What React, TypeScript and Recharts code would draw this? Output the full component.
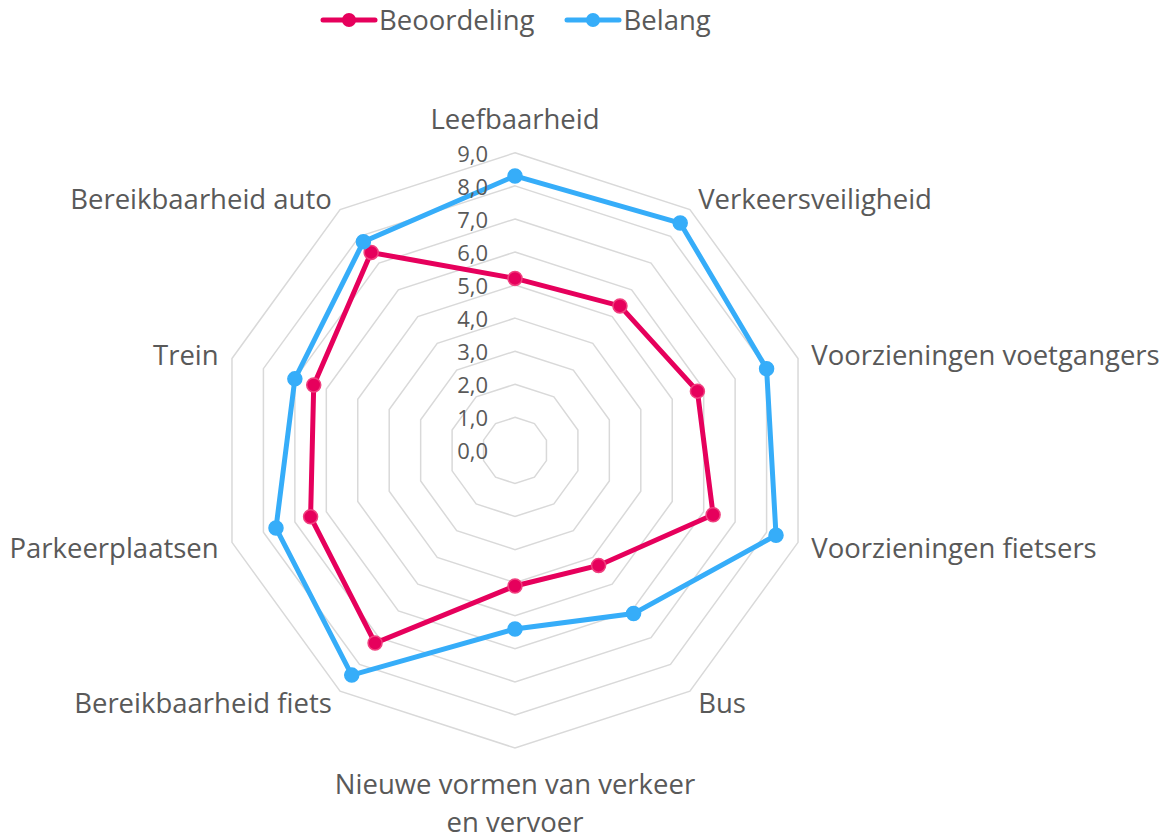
import { RadarChart, Radar, PolarGrid, PolarAngleAxis, PolarRadiusAxis } from 'recharts';

const categories = [
  'Leefbaarheid',
  'Verkeersveiligheid',
  'Voorzieningen voetgangers',
  'Voorzieningen fietsers',
  'Bus',
  'Nieuwe vormen van verkeer\nen vervoer',
  'Bereikbaarheid fiets',
  'Parkeerplaatsen',
  'Trein',
  'Bereikbaarheid auto',
];
const beoordeling = [5.2, 5.4, 5.8, 6.3, 4.3, 4.1, 7.2, 6.5, 6.4, 7.4];
const belang = [8.3, 8.5, 8.0, 8.3, 6.1, 5.4, 8.4, 7.6, 7.0, 7.8];
const radiusTicks = [0, 1, 2, 3, 4, 5, 6, 7, 8, 9];

const PINK = '#E6005C';
const BLUE = '#36ADF9';
const TEXT = '#595959';
const FONT = '"Open Sans", sans-serif';

const CX = 515;
const CY = 450.4;
const OUTER = 297.6;

const data = categories.map((name, i) => ({
  name,
  beoordeling: beoordeling[i],
  belang: belang[i],
}));

function AngleTick(props: any) {
  const { x, y, payload } = props;
  const dx = x - CX;
  const dy = y - CY;
  const len = Math.sqrt(dx * dx + dy * dy) || 1;
  const ux = dx / len;
  const uy = dy / len;
  const lines = String(payload.value).split('\n');
  let px = CX + ux * (OUTER + 14);
  let py = CY + uy * (OUTER + 14);
  let anchor: 'start' | 'end' | 'middle' = 'middle';
  if (ux > 0.1) anchor = 'start';
  else if (ux < -0.1) anchor = 'end';
  else {
    px = CX;
    py = CY + uy * (OUTER + 35);
  }
  return (
    <text
      x={px}
      y={py}
      textAnchor={anchor}
      dominantBaseline="central"
      fill={TEXT}
      fontSize={27.5}
      fontFamily={FONT}
    >
      {lines.map((l, i) => (
        <tspan key={i} x={px} dy={i === 0 ? 0 : 38}>
          {l}
        </tspan>
      ))}
    </text>
  );
}

function RadiusTick(props: any) {
  const { x, y, payload } = props;
  return (
    <text
      x={x - 27}
      y={y}
      textAnchor="end"
      dominantBaseline="central"
      fill={TEXT}
      fontSize={22}
      fontFamily={FONT}
    >
      {Number(payload.value).toFixed(1).replace('.', ',')}
    </text>
  );
}

function LegendItem({ color, label }: { color: string; label: string }) {
  return (
    <div style={{ display: 'flex', alignItems: 'center', marginRight: 30 }}>
      <svg width={58} height={20} style={{ marginRight: 1 }}>
        <line x1={3} y1={10} x2={55} y2={10} stroke={color} strokeWidth={5} strokeLinecap="round" />
        <circle cx={29} cy={10} r={7} fill={color} />
      </svg>
      <span style={{ color: TEXT, fontSize: 27.5, fontFamily: FONT }}>{label}</span>
    </div>
  );
}

export default function App() {
  return (
    <div style={{ position: 'absolute', left: 0, top: 0, width: 1171, height: 833, background: '#fff' }}>
      <div
        style={{
          position: 'absolute',
          top: 1,
          left: 320,
          display: 'flex',
          lineHeight: '38px',
        }}
      >
        <LegendItem color={PINK} label="Beoordeling" />
        <LegendItem color={BLUE} label="Belang" />
      </div>
      <RadarChart
        width={1171}
        height={833}
        data={data}
        cx={CX}
        cy={CY}
        outerRadius={OUTER}
        margin={{ top: 0, right: 0, bottom: 0, left: 0 }}
      >
        <PolarGrid gridType="polygon" radialLines={false} stroke="#D9D9D9" strokeWidth={1.5} />
        <PolarAngleAxis dataKey="name" tick={<AngleTick />} tickLine={false} axisLine={false} />
        <PolarRadiusAxis
          angle={90}
          domain={[0, 9]}
          ticks={radiusTicks as any}
          tickCount={10}
          tick={<RadiusTick />}
          axisLine={false}
          tickLine={false}
        />
        <Radar
          name="Beoordeling"
          dataKey="beoordeling"
          stroke={PINK}
          strokeWidth={5}
          fill="none"
          fillOpacity={0}
          dot={{ r: 7, fill: PINK, stroke: '#F0407F', strokeWidth: 1.5, fillOpacity: 1 }}
          isAnimationActive={false}
        />
        <Radar
          name="Belang"
          dataKey="belang"
          stroke={BLUE}
          strokeWidth={5}
          fill="none"
          fillOpacity={0}
          dot={{ r: 7, fill: BLUE, stroke: BLUE, strokeWidth: 1.5, fillOpacity: 1 }}
          isAnimationActive={false}
        />
      </RadarChart>
    </div>
  );
}
